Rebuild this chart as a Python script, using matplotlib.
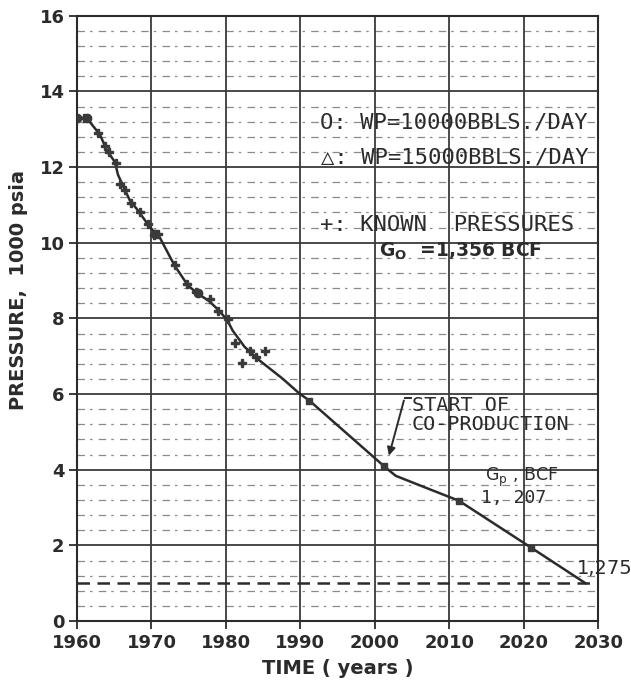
import numpy as np
import matplotlib
matplotlib.use("Agg")
import matplotlib.pyplot as plt

# ---- data ----
curve_year = [1960.0, 1961.3, 1963.1, 1964.0, 1965.1, 1965.5, 1966.3, 1967.1, 1968.0,
              1969.4, 1970.5, 1970.9, 1973.1, 1974.9, 1976.2, 1977.8, 1979.1, 1980.2,
              1980.9, 1982.5, 1984.5, 1987.6, 1989.9, 1991.2, 2001.2, 2002.8, 2006.9,
              2011.3, 2021.0, 2028.3]
curve_p = [13.3, 13.3, 12.85, 12.45, 12.13, 11.8, 11.45, 11.12, 10.9,
           10.52, 10.25, 10.22, 9.4, 8.87, 8.66, 8.45, 8.2, 7.95,
           7.68, 7.25, 6.89, 6.41, 6.01, 5.83, 4.1, 3.84, 3.52,
           3.18, 1.94, 1.0]

wp_year = [1960.0, 1961.3, 1970.5, 1976.2, 1991.2, 2001.2, 2011.3, 2021.0]
wp_p = [13.3, 13.3, 10.22, 8.66, 5.83, 4.1, 3.18, 1.94]

known_year = [1961.0, 1962.8, 1963.8, 1964.3, 1965.2, 1965.8, 1966.4, 1967.3, 1968.5,
              1969.6, 1970.3, 1970.9, 1973.2, 1974.8, 1976.0, 1977.8, 1979.0, 1980.3,
              1981.2, 1982.1, 1983.2, 1984.1, 1985.2]
known_p = [13.3, 12.9, 12.55, 12.4, 12.1, 11.55, 11.4, 11.05, 10.8,
           10.5, 10.2, 10.22, 9.4, 8.9, 8.7, 8.5, 8.2, 7.98,
           7.36, 6.83, 7.15, 6.97, 7.15]

x_ticks = [1960, 1970, 1980, 1990, 2000, 2010, 2020, 2030]
y_ticks = [0, 2, 4, 6, 8, 10, 12, 14, 16]
abandon_p = 1.0

ink = "#2b2b2b"
grid_c = "#3a3a3a"

fig = plt.figure(figsize=(6.31, 6.84), dpi=100)
ax = fig.add_axes([0.122, 0.092, 0.826, 0.885])
ax.set_xlim(1960, 2030)
ax.set_ylim(0, 16)

# minor dashed grid
for yv in np.arange(0.4, 16, 0.4):
    if abs(yv / 2 - round(yv / 2)) < 1e-6:
        continue
    ax.axhline(yv, color="#8a8a8a", lw=0.9, ls=(0, (6, 4, 2, 5)), zorder=1)
# major grid
for xv in x_ticks[1:-1]:
    ax.axvline(xv, color=grid_c, lw=1.3, zorder=2)
for yv in y_ticks[1:-1]:
    ax.axhline(yv, color=grid_c, lw=1.3, zorder=2)
# abandonment pressure
ax.axhline(abandon_p, color=ink, lw=1.8, ls=(0, (5, 3)), zorder=2)

ax.plot(curve_year, curve_p, color=ink, lw=1.8, zorder=4)
ax.plot(known_year, known_p, ls="none", marker="P", ms=5.5, color="#3a3a3a", zorder=5)
ax.plot(wp_year[:4], wp_p[:4], ls="none", marker="o", ms=6, color="#3a3a3a", zorder=5)
ax.plot(wp_year[4:], wp_p[4:], ls="none", marker="s", ms=5, color="#3a3a3a", zorder=5)

for s in ax.spines.values():
    s.set_color(ink)
    s.set_linewidth(1.5)

ax.set_xticks(x_ticks)
ax.set_yticks(y_ticks)
ax.tick_params(axis="both", direction="out", length=6, width=1.3, color=ink,
               labelsize=13, labelcolor=ink, pad=3)
for lab in ax.get_xticklabels() + ax.get_yticklabels():
    lab.set_fontweight("bold")

ax.set_ylabel("PRESSURE,  1000 psia", fontsize=14, fontweight="bold", color=ink)
ax.yaxis.set_label_coords(-0.094, 0.547)
ax.set_xlabel("TIME ( years )", fontsize=14, fontweight="bold", color=ink)
ax.xaxis.set_label_coords(0.5, -0.062)

mono = ["DejaVu Sans Mono", "DejaVu Sans"]
ax.text(1992.6, 13.17, "O: WP=10000BBLS./DAY", fontsize=16, family=mono, color=ink,
        va="center", ha="left", zorder=6)
ax.text(1992.8, 12.25, "\u25B3: WP=15000BBLS./DAY", fontsize=16, family=mono, color=ink,
        va="center", ha="left", zorder=6)
ax.text(1992.6, 10.48, "+: KNOWN  PRESSURES", fontsize=16, family=mono, color=ink,
        va="center", ha="left", zorder=6)
ax.text(2000.6, 9.76, r"G$_\mathregular{O}$  =1,356 BCF", fontsize=13.5, color=ink,
        fontweight="bold", va="center", ha="left", zorder=6)
ax.text(2005.0, 5.71, "START OF", fontsize=14.5, family=mono, color=ink,
        va="center", ha="left", zorder=6)
ax.text(2005.0, 5.19, "CO-PRODUCTION", fontsize=14.5, family=mono, color=ink,
        va="center", ha="left", zorder=6)
ax.plot([2004.0, 2004.8], [5.9, 5.9], color=ink, lw=1.4, zorder=6)
ax.annotate("", xy=(2001.8, 4.3), xytext=(2004.0, 5.9),
            arrowprops=dict(arrowstyle="-|>", color=ink, lw=1.4, mutation_scale=12), zorder=6)
ax.text(2014.8, 3.8, r"G$_\mathregular{p}$ , BCF", fontsize=12.5, color=ink,
        va="center", ha="left", zorder=6)
ax.text(2014.2, 3.25, "1, 207", fontsize=13, family=mono, color=ink,
        va="center", ha="left", zorder=6)
ax.text(2027.1, 1.4, "1,275", fontsize=14, color=ink, va="center", ha="left",
        zorder=6, clip_on=False)

fig.savefig("out.png", dpi=100, facecolor="white")
